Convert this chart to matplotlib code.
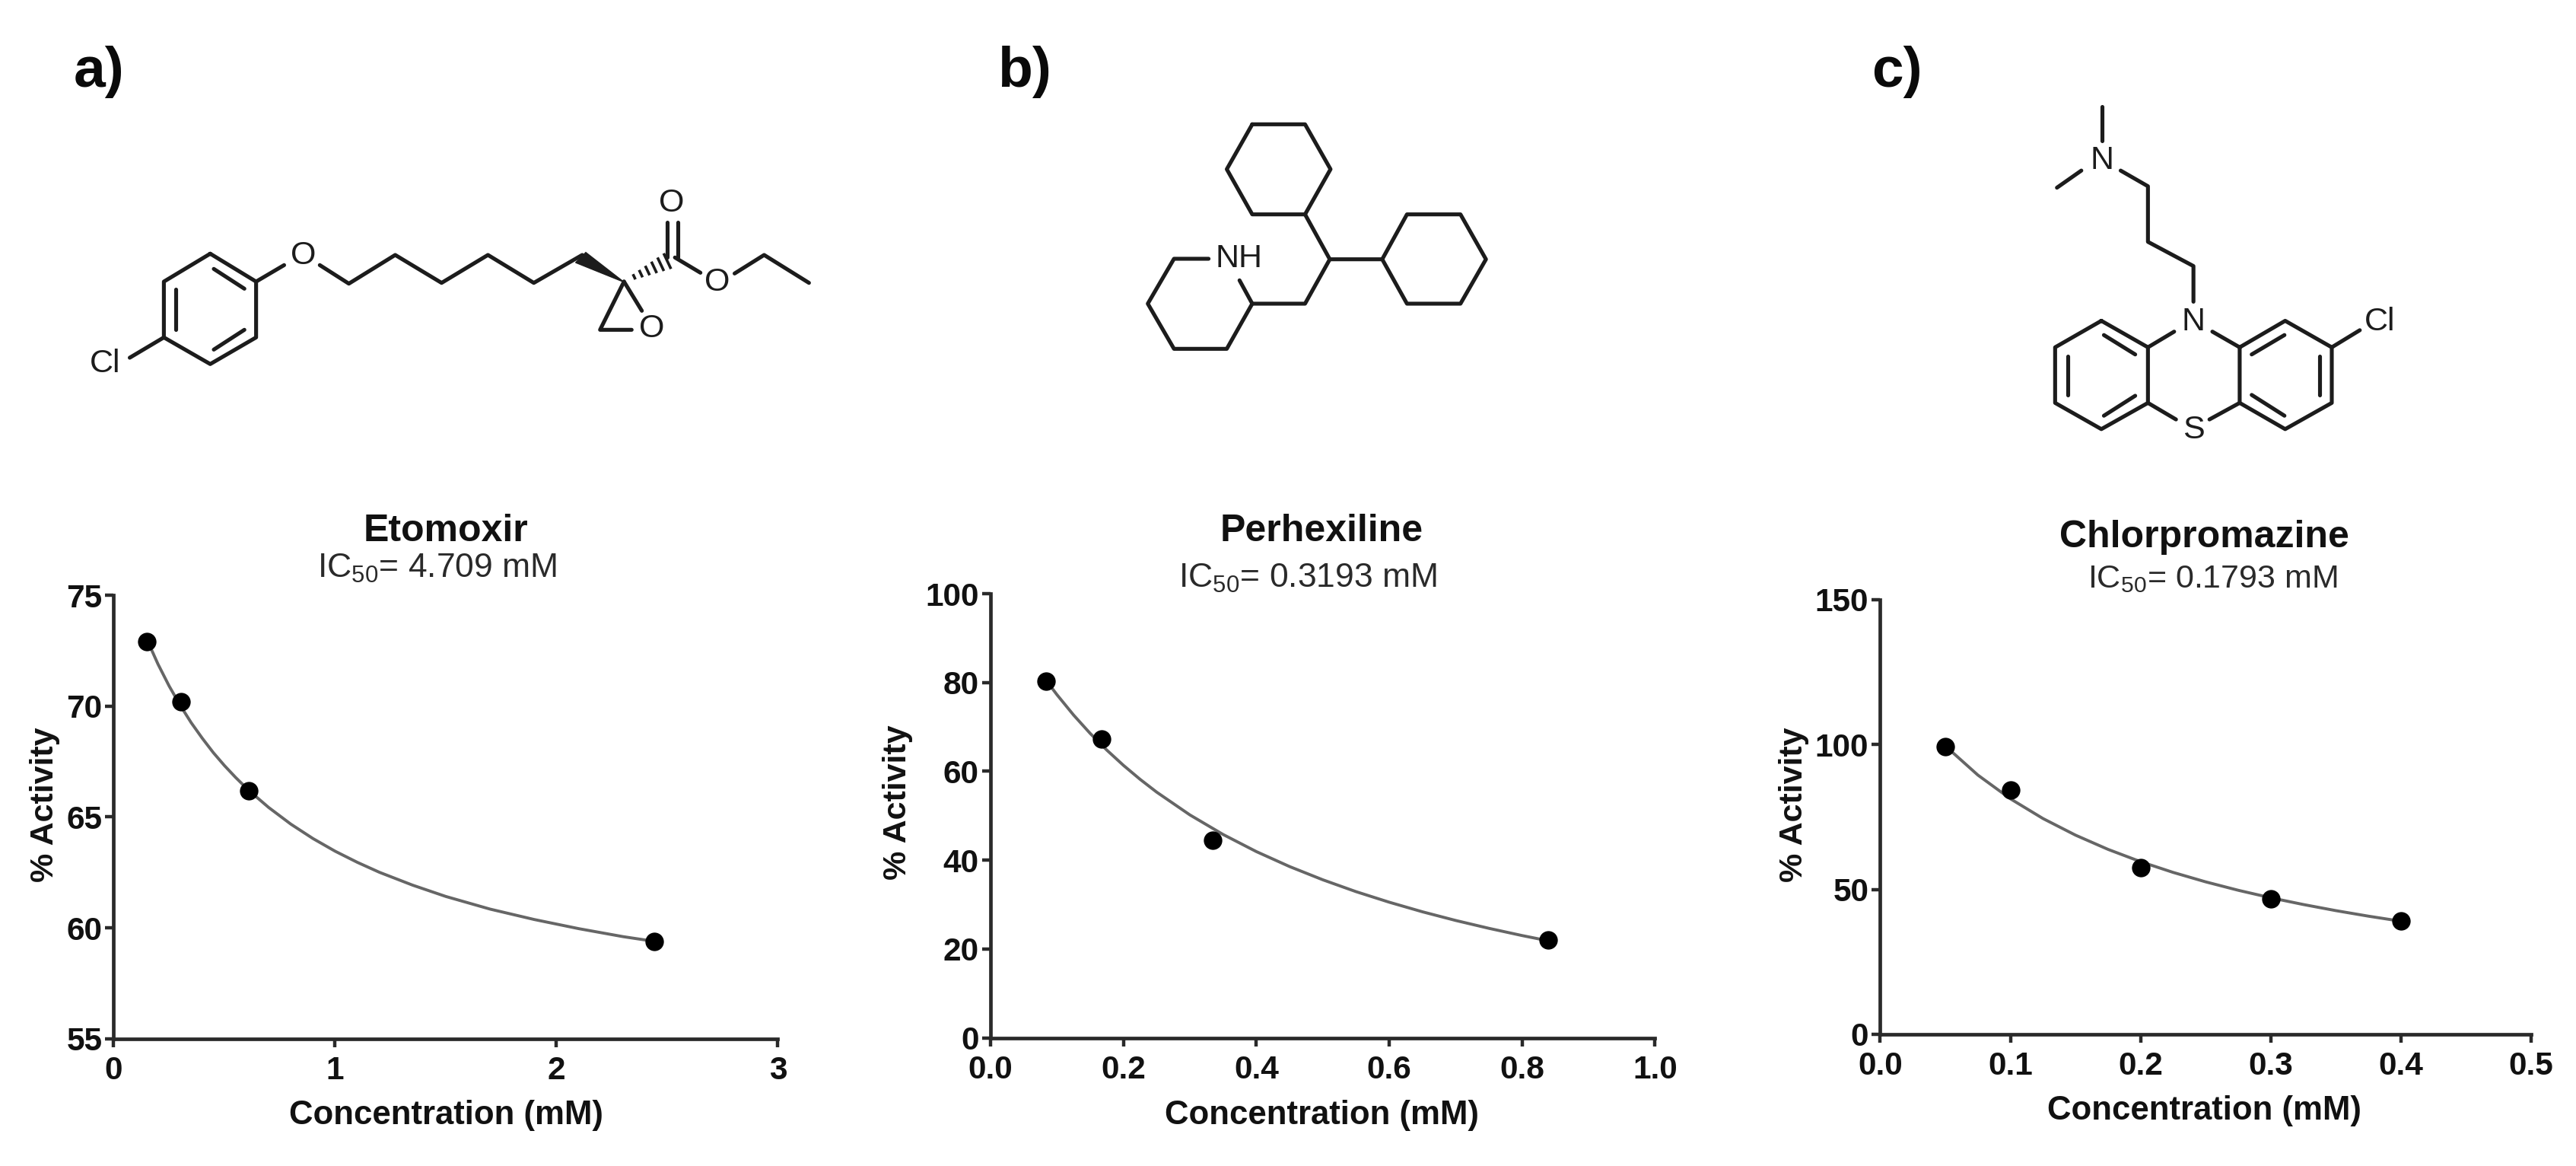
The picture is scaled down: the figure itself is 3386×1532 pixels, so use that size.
import numpy as np
import matplotlib
matplotlib.use("Agg")
import matplotlib.pyplot as plt
from matplotlib.patches import Polygon

plt.rcParams['font.family'] = ['Liberation Sans', 'DejaVu Sans']
plt.rcParams['mathtext.fontset'] = 'custom'
plt.rcParams['mathtext.rm'] = 'Liberation Sans'

W, H = 3387, 1532
INK = '#1c1c1c'

# ---------- data ----------
drug_names = ['Etomoxir', 'Perhexiline', 'Chlorpromazine']
ic50_labels = ['4.709', '0.3193', '0.1793']
panel_letters = ['a)', 'b)', 'c)']

eto_x = [0.15, 0.305, 0.61, 2.44]
eto_y = [72.9, 70.2, 66.2, 59.4]
eto_fit_x = [0.15, 0.2, 0.25, 0.3, 0.35, 0.4, 0.45, 0.5, 0.55, 0.61, 0.7, 0.8, 0.9, 1.0, 1.1, 1.2, 1.35, 1.5, 1.7, 1.9, 2.1, 2.3, 2.44]
eto_fit_y = [73.0, 71.89, 70.91, 70.04, 69.25, 68.55, 67.9, 67.32, 66.79, 66.2, 65.43, 64.68, 64.03, 63.46, 62.96, 62.51, 61.93, 61.42, 60.85, 60.38, 59.97, 59.61, 59.4]

per_x = [0.083, 0.167, 0.334, 0.839]
per_y = [80.3, 67.3, 44.5, 22.0]
per_fit_x = [0.084, 0.1, 0.125, 0.15, 0.175, 0.2, 0.225, 0.25, 0.3, 0.35, 0.4, 0.45, 0.5, 0.55, 0.6, 0.65, 0.7, 0.75, 0.8, 0.84]
per_fit_y = [80.4, 77.24, 72.66, 68.52, 64.77, 61.34, 58.2, 55.31, 50.18, 45.77, 41.92, 38.55, 35.57, 32.9, 30.52, 28.36, 26.41, 24.64, 23.01, 21.81]

chl_x = [0.05, 0.1, 0.2, 0.3, 0.4]
chl_y = [99.1, 84.2, 57.5, 46.8, 39.2]
chl_fit_x = [0.05, 0.075, 0.1, 0.125, 0.15, 0.175, 0.2, 0.225, 0.25, 0.275, 0.3, 0.325, 0.35, 0.375, 0.4]
chl_fit_y = [99.44, 89.4, 81.22, 74.42, 68.69, 63.78, 59.54, 55.84, 52.58, 49.68, 47.09, 44.77, 42.66, 40.75, 39.01]

x_ticks = [[0, 1, 2, 3], [0.0, 0.2, 0.4, 0.6, 0.8, 1.0], [0.0, 0.1, 0.2, 0.3, 0.4, 0.5]]
y_ticks = [[55, 60, 65, 70, 75], [0, 20, 40, 60, 80, 100], [0, 50, 100, 150]]
x_fmt = ['{:.0f}', '{:.1f}', '{:.1f}']

# ---------- layout (pixels) ----------
boxes = [(149.5, 1022.5, 782, 1365), (1302, 2175.5, 780, 1363.5), (2471.5, 3327, 787.5, 1359)]
title_xy = [(586, 698), (1737, 698), (2897, 706)]
ic_xy = [(575, 747), (1719, 760), (2908, 761)]
ic_size = [32, 32, 31]
xlab_xy = [(586, 1465), (1737, 1465), (2897, 1459)]
ylab_xy = [(59, 1057), (1180, 1054), (2358, 1057)]
letter_xy = [(97, 114), (1311, 114), (2460, 114)]

fig = plt.figure(figsize=(W / 100, H / 100), dpi=100, facecolor='white')

series = [(eto_x, eto_y, eto_fit_x, eto_fit_y), (per_x, per_y, per_fit_x, per_fit_y), (chl_x, chl_y, chl_fit_x, chl_fit_y)]
for i, (px, py, fx, fy) in enumerate(series):
    l, r, t, b = boxes[i]
    ax = fig.add_axes([l / W, 1 - b / H, (r - l) / W, (b - t) / H])
    ax.patch.set_alpha(0)
    ax.plot(fx, fy, color='#666666', lw=2.8, clip_on=False, zorder=2)
    ax.plot(px, py, 'o', color='black', ms=17.5, mew=0, clip_on=False, zorder=3)
    ax.set_xlim(x_ticks[i][0], x_ticks[i][-1])
    ax.set_ylim(y_ticks[i][0], y_ticks[i][-1])
    ax.set_xticks(x_ticks[i], [x_fmt[i].format(v) for v in x_ticks[i]])
    ax.set_yticks(y_ticks[i], [str(v) for v in y_ticks[i]])
    for s in ('top', 'right'):
        ax.spines[s].set_visible(False)
    for s in ('left', 'bottom'):
        ax.spines[s].set_linewidth(3.4)
        ax.spines[s].set_color('#2a2a2a')
    ax.tick_params(axis='x', length=8, width=3.2, color='#2a2a2a', pad=8)
    ax.tick_params(axis='y', length=8, width=3.2, color='#2a2a2a', pad=3)
    for lab in ax.get_xticklabels() + ax.get_yticklabels():
        lab.set_fontsize(30.5)
        lab.set_fontweight('bold')
        lab.set_color('#111111')

# overlay in pixel coordinates for text and structures
ov = fig.add_axes([0, 0, 1, 1])
ov.set_xlim(0, W)
ov.set_ylim(H, 0)
ov.axis('off')
ov.patch.set_alpha(0)

for i in range(3):
    ov.text(*title_xy[i], drug_names[i], fontsize=36, fontweight='bold', color='#111111', ha='center', va='center')
    ov.text(*ic_xy[i], r'IC$_{\mathrm{50}}$= ' + ic50_labels[i] + ' mM', fontsize=ic_size[i], color='#2a2a2a', ha='center', va='center')
    ov.text(*xlab_xy[i], 'Concentration (mM)', fontsize=31.5, fontweight='bold', color='#111111', ha='center', va='center')
    ov.text(*ylab_xy[i], '% Activity', fontsize=31, fontweight='bold', color='#111111', ha='center', va='center', rotation=90)
    ov.text(*letter_xy[i], panel_letters[i], fontsize=54, fontweight='bold', color='#0a0a0a', ha='left', va='baseline')


def mol(x0, y0, sx, sy, lines, atoms):
    for ln in lines:
        xs = [x0 + p[0] / sx for p in ln]
        ys = [y0 + p[1] / sy for p in ln]
        ov.plot(xs, ys, color=INK, lw=3.7, solid_capstyle='round', solid_joinstyle='round')
    for (ax_, ay_, s) in atoms:
        ov.text(x0 + ax_ / sx, y0 + ay_ / sy, s, fontsize=31, color=INK, ha='center', va='center')


# a) etomoxir
sa = (60, 20, 1.493, 3.0)
mol(*sa, [
    [(323, 940), (413, 1050), (413, 1270), (323, 1375), (232, 1270), (232, 1050), (323, 940)],
    [(330, 1000), (390, 1078)], [(256, 1080), (256, 1240)], [(330, 1318), (390, 1240)],
    [(413, 1050), (468, 985)], [(232, 1270), (165, 1350)],
    [(538, 985), (595, 1058), (686, 945), (777, 1055), (868, 945), (958, 1055), (1053, 945)],
    [(1135, 1050), (1088, 1240), (1150, 1240)], [(1135, 1050), (1170, 1165)],
    [(1220, 955), (1220, 815)], [(1240, 955), (1240, 815)],
    [(1235, 955), (1285, 1015)], [(1352, 1018), (1410, 945), (1498, 1055)],
], [(505, 947, 'O'), (117, 1373, 'Cl'), (1228, 740, 'O'), (1318, 1053, 'O'), (1190, 1237, 'O')])
def A(p):
    return (sa[0] + p[0] / sa[2], sa[1] + p[1] / sa[3])
ov.add_patch(Polygon([A((1135, 1052)), A((1040, 975)), A((1060, 935))], closed=True, fc=INK, ec=INK, lw=1))
c0, c1 = np.array(A((1135, 1050))), np.array(A((1235, 955)))
d = (c1 - c0) / np.linalg.norm(c1 - c0)
nrm = np.array([-d[1], d[0]])
for f, hw in zip([0.2, 0.33, 0.46, 0.59, 0.72, 0.85], [2, 3.5, 5, 6.5, 8, 9.5]):
    m = c0 + (c1 - c0) * f
    a_, b_ = m - nrm * hw, m + nrm * hw
    ov.plot([a_[0], b_[0]], [a_[1], b_[1]], color=INK, lw=2.6)

# b) perhexiline
mol(1280, 20, 2.09, 3.0, [
    [(765, 430), (910, 430), (980, 607), (910, 785), (765, 785), (695, 607), (765, 430)],
    [(910, 785), (978, 962), (1122, 962)],
    [(1122, 962), (1190, 785), (1337, 785), (1407, 962), (1337, 1137), (1190, 1137), (1122, 962)],
    [(978, 962), (910, 1137), (765, 1137)],
    [(730, 1045), (765, 1137), (695, 1315), (550, 1315), (478, 1137), (550, 960), (645, 960)],
], [(728, 960, 'NH')])

# c) chlorpromazine
mol(2420, 20, 2.09, 2.67, [
    [(716, 320), (716, 440)], [(660, 545), (593, 605)],
    [(768, 545), (843, 600), (843, 795), (968, 880), (968, 1005)],
    [(715, 1072), (843, 1165), (843, 1360), (715, 1452), (588, 1360), (588, 1165), (715, 1072)],
    [(1095, 1165), (1220, 1072), (1348, 1165), (1348, 1360), (1220, 1452), (1095, 1360), (1095, 1165)],
    [(915, 1110), (843, 1165)], [(1020, 1110), (1095, 1165)],
    [(843, 1360), (920, 1418)], [(1095, 1360), (1012, 1418)],
    [(1348, 1165), (1425, 1105)],
    [(722, 1122), (808, 1190)], [(622, 1195), (622, 1333)], [(722, 1405), (808, 1335)],
    [(1128, 1190), (1218, 1122)], [(1315, 1195), (1315, 1333)], [(1128, 1332), (1218, 1405)],
], [(716, 510, 'N'), (968, 1075, 'N'), (968, 1455, 'S'), (1480, 1075, 'Cl')])

fig.savefig('out.png', dpi=100, facecolor='white')
